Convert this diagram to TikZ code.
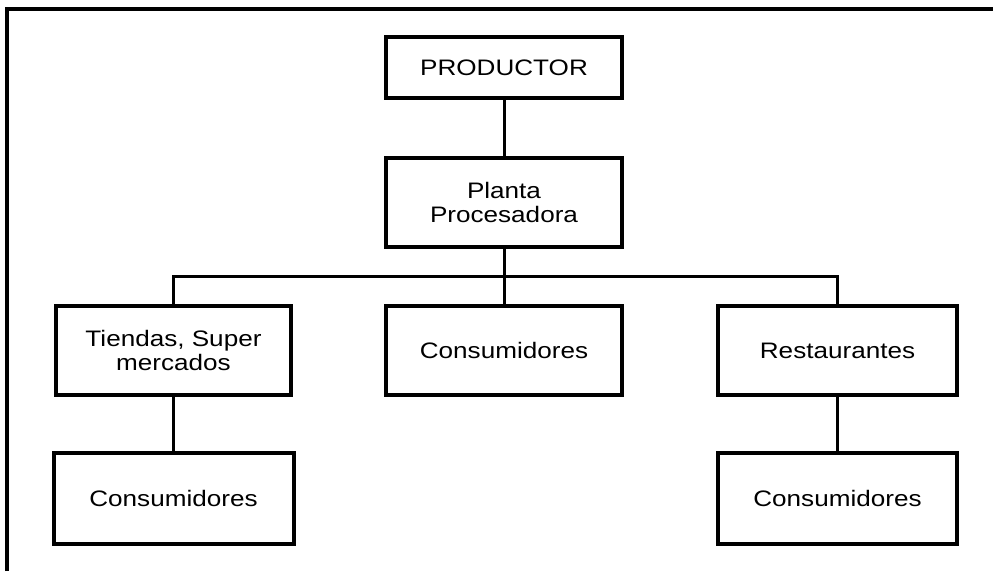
\documentclass[tikz,border=0pt]{standalone}
\usepackage{fontspec}
\setmainfont{Liberation Sans}[FakeStretch=1.165]
\begin{document}
\begin{tikzpicture}[x=1pt,y=-1pt,
  box/.style={draw, line width=4pt, rectangle, align=center,
    minimum width=236pt, minimum height=89pt, inner sep=0pt,
    font=\fontsize{22.4}{23.5}\selectfont},
  link/.style={line width=3pt}]
\useasboundingbox (0,0) rectangle (993,571);
% outer frame (top and left sides)
\draw[line width=3.4pt] (7,571) -- (7,9) -- (993,9);

% boxes
\node[box, minimum height=61pt] (prod) at (504,67.5) {PRODUCTOR};
\node[box] (planta) at (504,202.5) {Planta\\Procesadora};
\node[box, minimum width=235pt] (tiendas) at (173.5,350.5) {Tiendas, Super\\mercados};
\node[box] (consm) at (504,350.5) {Consumidores};
\node[box, minimum width=239pt] (rest) at (837.5,350.5) {Restaurantes};
\node[box, minimum width=240pt, minimum height=91pt] (consl) at (173.5,498.5) {Consumidores};
\node[box, minimum width=239pt, minimum height=91pt] (consr) at (837.5,498.5) {Consumidores};

% distribution bus
\coordinate (bus) at (504,276);

% connectors
\draw[link] (prod.south) -- (planta.north);
\draw[link] (planta.south) -- (consm.north);
\draw[link] (tiendas.north) |- (bus) -| (rest.north);
\draw[link] (tiendas.south) -- (consl.north);
\draw[link] (rest.south) -- (consr.north);
\end{tikzpicture}
\end{document}
